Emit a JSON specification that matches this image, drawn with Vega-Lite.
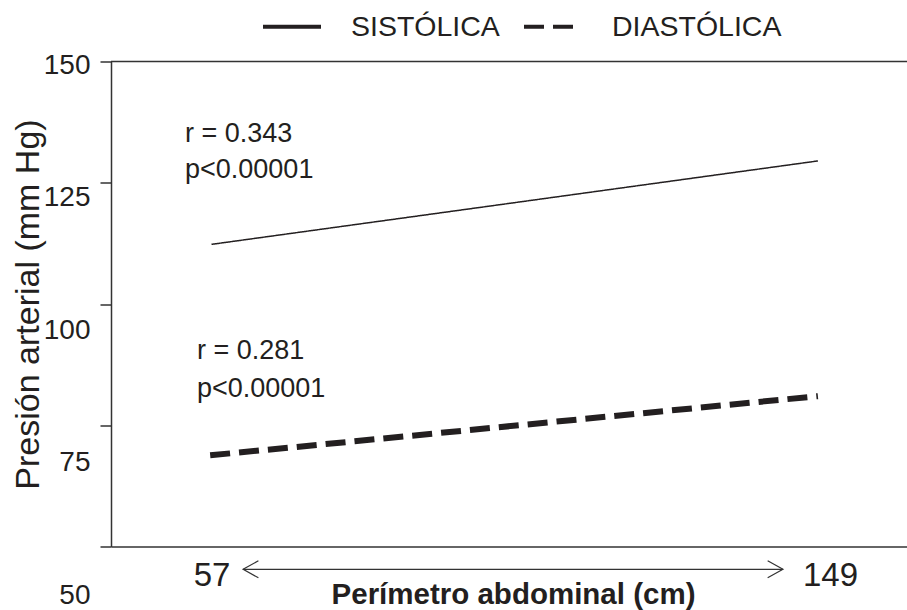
{
  "$schema": "https://vega.github.io/schema/vega-lite/v6.json",
  "width": 796,
  "height": 485,
  "autosize": {"type": "none"},
  "padding": {"left": 111, "top": 61.5, "right": 0, "bottom": 63.5},
  "background": "white",
  "config": {
    "view": {"stroke": null},
    "font": "Liberation Sans",
    "axis": {"grid": false}
  },
  "datasets": {
    "lines": [
      {"serie": "SISTÓLICA", "x": 57.0, "y": 112.3},
      {"serie": "SISTÓLICA", "x": 147.2, "y": 129.5},
      {"serie": "DIASTÓLICA", "x": 56.8, "y": 68.8},
      {"serie": "DIASTÓLICA", "x": 147.2, "y": 81.0}
    ],
    "notes": [
      {"t": "r = 0.343", "x": 53.06, "y": 133.4},
      {"t": "p<0.00001", "x": 53.06, "y": 125.95},
      {"t": "r = 0.281", "x": 54.84, "y": 88.6},
      {"t": "p<0.00001", "x": 54.84, "y": 80.75}
    ],
    "arrow": [{"x": 61.7, "x2": 142.0, "y": 45.3}],
    "heads": [
      {"lado": "izq", "x": 61.7, "y": 45.3},
      {"lado": "der", "x": 142.0, "y": 45.3}
    ],
    "frame": [{"y": 150}]
  },
  "layer": [
    {
      "data": {"name": "lines"},
      "transform": [{"filter": "datum.serie === 'SISTÓLICA'"}],
      "mark": {"type": "line", "strokeWidth": 1.5, "color": "#231f20", "clip": false},
      "encoding": {
        "x": {
          "field": "x", "type": "quantitative",
          "scale": {"domain": [42.05, 160.45], "nice": false, "zero": false},
          "axis": {
            "values": [57, 149],
            "ticks": false,
            "tickSize": 0,
            "domainColor": "#333333",
            "domainWidth": 1.5,
            "labelFontSize": 33,
            "labelBaseline": "alphabetic",
            "labelPadding": 38.5,
            "labelColor": "#231f20",
            "labelFlush": false,
            "labelOverlap": false,
            "title": "Perímetro abdominal (cm)",
            "titleFontSize": 29.5,
            "titleFontWeight": "bold",
            "titleColor": "#231f20",
            "titleX": 402,
            "titleY": 57,
            "titleBaseline": "alphabetic"
          }
        },
        "y": {
          "field": "y", "type": "quantitative",
          "scale": {"domain": [50, 150], "nice": false, "zero": false},
          "axis": {
            "values": [50, 75, 100, 125, 150],
            "tickSize": 11,
            "tickColor": "#333333",
            "tickWidth": 1.5,
            "domainColor": "#333333",
            "domainWidth": 1.5,
            "labelFontSize": 28,
            "labelPadding": 10,
            "labelBaseline": "alphabetic",
            "labelColor": "#231f20",
            "labelFlush": false,
            "labelOverlap": false,
            "labelOffset": {"expr": "11.8 + (150 - datum.value) * 0.45"},
            "title": "Presión arterial (mm Hg)",
            "titleFontSize": 34,
            "titleFontWeight": "normal",
            "titleColor": "#231f20",
            "titleX": -73,
            "titleBaseline": "alphabetic"
          }
        },
        "strokeDash": {
          "field": "serie", "type": "nominal",
          "scale": {"domain": ["SISTÓLICA", "DIASTÓLICA"], "range": [[1, 0], [20, 9]]},
          "legend": {
            "title": null,
            "orient": "none",
            "legendX": 150,
            "legendY": -66,
            "direction": "horizontal",
            "symbolType": "stroke",
            "symbolSize": 3364,
            "symbolStrokeWidth": 4,
            "symbolStrokeColor": "#231f20",
            "labelFontSize": 28.5,
            "labelColor": "#231f20",
            "labelOffset": 28,
            "columnPadding": 16,
            "padding": 0,
            "labelLimit": 0,
            "encode": {"symbols": {"update": {
              "strokeWidth": {"value": 4},
              "stroke": {"value": "#231f20"},
              "strokeDash": {"signal": "datum.value === 'DIASTÓLICA' ? [23, 11] : [1, 0]"}
            }}}
          }
        }
      }
    },
    {
      "data": {"name": "lines"},
      "transform": [{"filter": "datum.serie === 'DIASTÓLICA'"}],
      "mark": {"type": "line", "strokeWidth": 6, "color": "#231f20", "clip": false},
      "encoding": {
        "x": {"field": "x", "type": "quantitative"},
        "y": {"field": "y", "type": "quantitative"},
        "strokeDash": {"field": "serie", "type": "nominal"}
      }
    },
    {
      "data": {"name": "frame"},
      "mark": {"type": "rule", "color": "#333333", "strokeWidth": 1.5},
      "encoding": {
        "y": {"field": "y", "type": "quantitative"}
      }
    },
    {
      "data": {"name": "notes"},
      "mark": {"type": "text", "align": "left", "baseline": "alphabetic", "fontSize": 27, "color": "#231f20", "clip": false},
      "encoding": {
        "x": {"field": "x", "type": "quantitative"},
        "y": {"field": "y", "type": "quantitative"},
        "text": {"field": "t"}
      }
    },
    {
      "data": {"name": "arrow"},
      "mark": {"type": "rule", "color": "#333333", "strokeWidth": 1.2, "clip": false},
      "encoding": {
        "x": {"field": "x", "type": "quantitative"},
        "x2": {"field": "x2"},
        "y": {"field": "y", "type": "quantitative"}
      }
    },
    {
      "data": {"name": "heads"},
      "mark": {"type": "point", "filled": false, "size": 289, "strokeWidth": 1.2, "color": "#333333", "opacity": 1, "clip": false},
      "encoding": {
        "x": {"field": "x", "type": "quantitative"},
        "y": {"field": "y", "type": "quantitative"},
        "shape": {
          "field": "lado", "type": "nominal",
          "scale": {"domain": ["izq", "der"], "range": ["M1.8,-1L0,0L1.8,1", "M-1.8,-1L0,0L-1.8,1"]},
          "legend": null
        }
      }
    }
  ]
}
